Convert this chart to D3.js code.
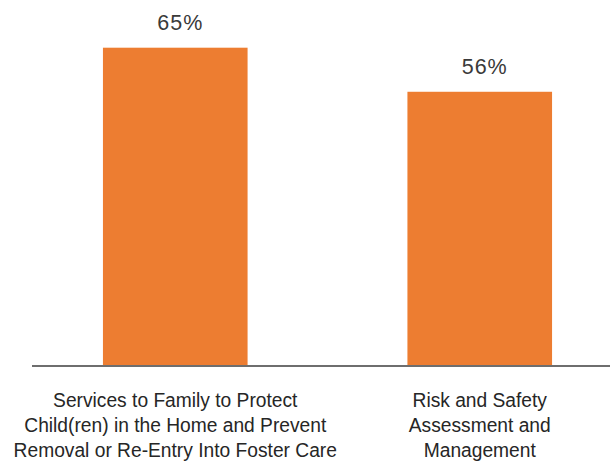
<!DOCTYPE html>
<html>
<head>
<meta charset="utf-8">
<script src="https://cdn.jsdelivr.net/npm/d3@7"></script>
<style>
  html, body { margin: 0; padding: 0; background: #fff; }
  svg { display: block; }
</style>
</head>
<body>
<script>
const categories = [
  ["Services to Family to Protect", "Child(ren) in the Home and Prevent", "Removal or Re-Entry Into Foster Care"],
  ["Risk and Safety", "Assessment and", "Management"]
];
const values = [65, 56];
const valueLabels = ["65%", "56%"];

const W = 610, H = 471;
const svg = d3.select("body").append("svg").attr("width", W).attr("height", H);

const x = d3.scaleBand()
  .domain(d3.range(values.length))
  .range([32, 623])
  .paddingInner(0.525)
  .paddingOuter(0.233);

const y = d3.scaleLinear().domain([0, 65]).range([366, 47.7]);

svg.selectAll("rect.bar").data(values).join("rect")
  .attr("class", "bar")
  .attr("x", (d, i) => x(i))
  .attr("width", x.bandwidth())
  .attr("y", d => y(d))
  .attr("height", d => y(0) - y(d))
  .attr("fill", "#ED7D31");

// baseline
svg.append("line")
  .attr("x1", 32).attr("x2", W)
  .attr("y1", y(0)).attr("y2", y(0))
  .attr("stroke", "#6e6e6e").attr("stroke-width", 2);

svg.selectAll("text.val").data(values).join("text")
  .attr("class", "val")
  .attr("x", (d, i) => x(i) + x.bandwidth() / 2 + 5)
  .attr("y", d => y(d) - 17.5)
  .attr("text-anchor", "middle")
  .attr("font-family", "'Liberation Sans', Arial, sans-serif")
  .attr("font-size", 21.5)
  .attr("letter-spacing", 1)
  .attr("fill", "#3a3a3a")
  .text((d, i) => valueLabels[i]);

const lab = svg.selectAll("text.cat").data(categories).join("text")
  .attr("class", "cat")
  .attr("transform", (d, i) => `translate(${x(i) + x.bandwidth() / 2},0) scale(0.915,1)`)
  .attr("text-anchor", "middle")
  .attr("font-family", "'Liberation Sans', Arial, sans-serif")
  .attr("font-size", 21)
  .attr("fill", "#262626");
lab.selectAll("tspan").data(d => d).join("tspan")
  .attr("x", 0)
  .attr("y", (d, j) => 407.3 + j * 25)
  .text(d => d);
</script>
</body>
</html>
